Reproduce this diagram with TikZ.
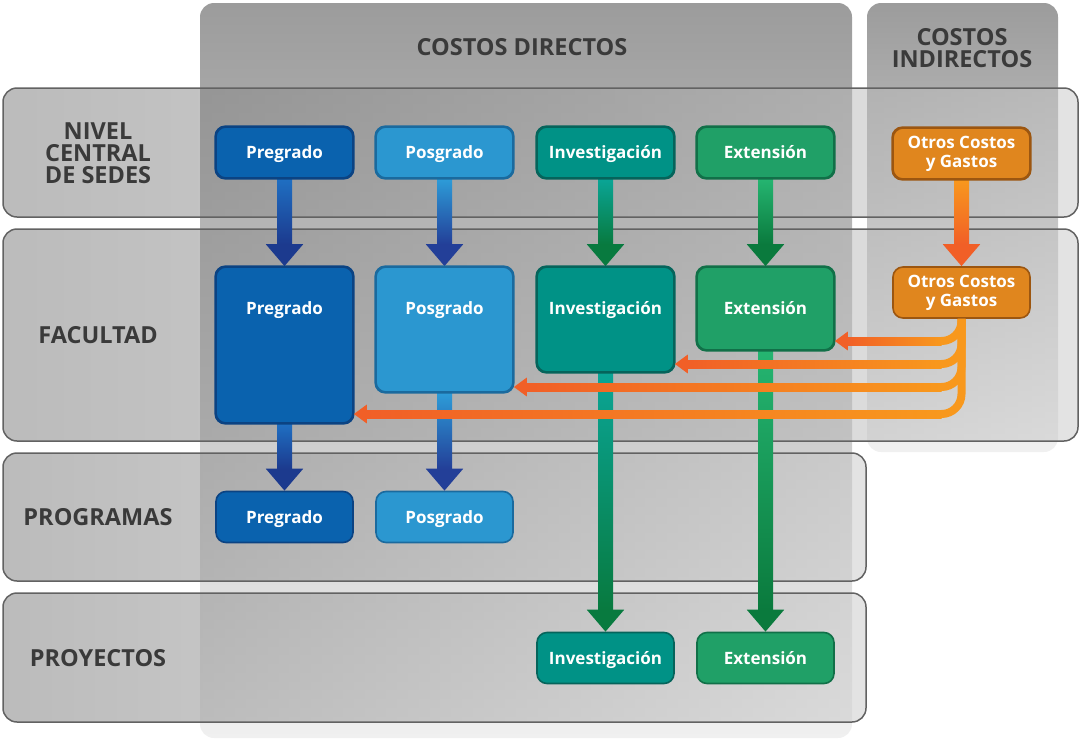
\documentclass[tikz,border=0pt]{standalone}
\usepackage{fontspec}
\setmainfont{Open Sans}
\usetikzlibrary{arrows.meta,calc}

\definecolor{colTop}{HTML}{9C9C9C}
\definecolor{colMid}{HTML}{C2C2C2}
\definecolor{colBot}{HTML}{F0F0F0}
\definecolor{rowL}{HTML}{787878}
\definecolor{rowM}{HTML}{7C7C7C}
\definecolor{rowR}{HTML}{C8C8C8}
\definecolor{rowBorder}{HTML}{626262}
\definecolor{headTxt}{HTML}{3A3A3A}

\definecolor{preF}{HTML}{0A62AE}
\definecolor{preB}{HTML}{0B4383}
\definecolor{posF}{HTML}{2B97D0}
\definecolor{posB}{HTML}{1A6A9E}
\definecolor{invF}{HTML}{009286}
\definecolor{invB}{HTML}{05645B}
\definecolor{extF}{HTML}{20A067}
\definecolor{extB}{HTML}{117048}
\definecolor{ocF}{HTML}{E0861E}
\definecolor{ocB}{HTML}{9C5610}

\definecolor{preAT}{HTML}{1F6FC2}
\definecolor{preAB}{HTML}{1C3A8E}
\definecolor{posAT}{HTML}{2D9CD8}
\definecolor{posAB}{HTML}{233F98}
\definecolor{invAT}{HTML}{0AA596}
\definecolor{invAB}{HTML}{087A3F}
\definecolor{extAT}{HTML}{25B571}
\definecolor{extAB}{HTML}{0A7A3D}
\definecolor{ocAT}{HTML}{F8981D}
\definecolor{ocAB}{HTML}{F15F27}

\newcommand{\vlink}[4]{%
  \draw[varrow, #4] (#1.south) -- (#2.north);
  \shade[top color=#3, bottom color=#4] ($(#1.south)+(-7.5,0)$) rectangle ($(#2.north)+(7.5,-22)$);
}
\newcommand{\olink}[2]{%
  \draw[obranch] (oc2.south) |- (#1.east |- 0,#2);
  \shade[left color=ocAB, right color=ocAT] ($(#1.east |- 0,#2)+(12,-4)$) rectangle ($(oc2.south |- 0,#2)+(-20,4)$);
}

\begin{document}
\begin{tikzpicture}[x=1pt,y=-1pt,
  colbox/.style={top color=colTop, middle color=colMid, bottom color=colBot, rounded corners=14pt},
  rowfill/.style={left color=rowL, middle color=rowM, right color=rowR, opacity=0.5, rounded corners=14pt},
  rowline/.style={draw=rowBorder, line width=1.5pt, rounded corners=14pt},
  lbl/.style={text=headTxt, font=\bfseries\fontsize{23.5}{22}\selectfont, align=center, inner sep=0pt},
  box/.style={rounded corners=10pt, line width=1.6pt, text=white, font=\bfseries\fontsize{17}{19}\selectfont,
              minimum width=137pt, minimum height=51pt, inner sep=0pt, align=center},
  one/.style={box, text height=14.4pt, text depth=2pt},
  tall/.style={box, text height=47pt, text depth=#1},
  varrow/.style={line width=15pt, -{Triangle[width=36pt,length=22pt]}},
  obranch/.style={draw=ocAT, line width=8pt, rounded corners=20pt, -{Triangle[width=18pt,length=13pt,color=ocAB]}}
]
\useasboundingbox (0,0) rectangle (1080,740);

% columns
\shade[colbox] (200,3) rectangle (852,738);
\shade[colbox] (867,3) rectangle (1058,452);

% rows
\shade[rowfill] (3,88) rectangle (1078,217);
\draw[rowline] (3,88) rectangle (1078,217);
\shade[rowfill] (3,229) rectangle (1078,441);
\draw[rowline] (3,229) rectangle (1078,441);
\shade[rowfill] (3,453) rectangle (866,581);
\draw[rowline] (3,453) rectangle (866,581);
\shade[rowfill] (3,593) rectangle (866,722);
\draw[rowline] (3,593) rectangle (866,722);

% headings and row labels
\node[lbl] (hdir) at (522,47) {COSTOS DIRECTOS};
\node[lbl] (hind) at (962,48) {COSTOS\\INDIRECTOS};
\node[lbl] (lnivel) at (98,153) {NIVEL\\CENTRAL\\DE SEDES};
\node[lbl] (lfac) at (98,335) {FACULTAD};
\node[lbl] (lprog) at (98,517) {PROGRAMAS};
\node[lbl] (lproy) at (98,658) {PROYECTOS};

% nodes: nivel central
\node[one, fill=preF, draw=preB] (pre1) at (284.5,152.5) {Pregrado};
\node[one, fill=posF, draw=posB] (pos1) at (444.5,152.5) {Posgrado};
\node[one, fill=invF, draw=invB] (inv1) at (605.5,152.5) {Investigación};
\node[one, fill=extF, draw=extB] (ext1) at (765.5,152.5) {Extensión};
\node[box, fill=ocF, draw=ocB] (oc1) at (961.5,153.5) {Otros Costos\\y Gastos};

% nodes: facultad
\node[tall=109pt, fill=preF, draw=preB] (pre2) at (284.5,345) {Pregrado};
\node[tall=78pt, fill=posF, draw=posB] (pos2) at (444.5,329.5) {Posgrado};
\node[tall=58pt, fill=invF, draw=invB] (inv2) at (605.5,319.5) {Investigación};
\node[tall=36pt, fill=extF, draw=extB] (ext2) at (765.5,308.5) {Extensión};
\node[box, fill=ocF, draw=ocB] (oc2) at (961.5,292.5) {Otros Costos\\y Gastos};

% nodes: programas and proyectos
\node[one, fill=preF, draw=preB] (pre3) at (284.5,517) {Pregrado};
\node[one, fill=posF, draw=posB] (pos3) at (444.5,517) {Posgrado};
\node[one, fill=invF, draw=invB] (inv4) at (605.5,658) {Investigación};
\node[one, fill=extF, draw=extB] (ext4) at (765.5,658) {Extensión};

% vertical connectors
\vlink{pre1}{pre2}{preAT}{preAB}
\vlink{pos1}{pos2}{posAT}{posAB}
\vlink{inv1}{inv2}{invAT}{invAB}
\vlink{ext1}{ext2}{extAT}{extAB}
\vlink{oc1}{oc2}{ocAT}{ocAB}
\vlink{pre2}{pre3}{preAT}{preAB}
\vlink{pos2}{pos3}{posAT}{posAB}
\vlink{inv2}{inv4}{invAT}{invAB}
\vlink{ext2}{ext4}{extAT}{extAB}

% redraw node borders over arrow starts
\foreach \n/\b in {pre1/preB,pos1/posB,inv1/invB,ext1/extB,oc1/ocB,
                   pre2/preB,pos2/posB,inv2/invB,ext2/extB}
  \draw[line width=1.6pt, draw=\b, rounded corners=10pt] (\n.south west) rectangle (\n.north east);

% indirect cost distribution
\olink{pre2}{414}
\olink{pos2}{387}
\olink{inv2}{364}
\olink{ext2}{341}
\end{tikzpicture}
\end{document}
